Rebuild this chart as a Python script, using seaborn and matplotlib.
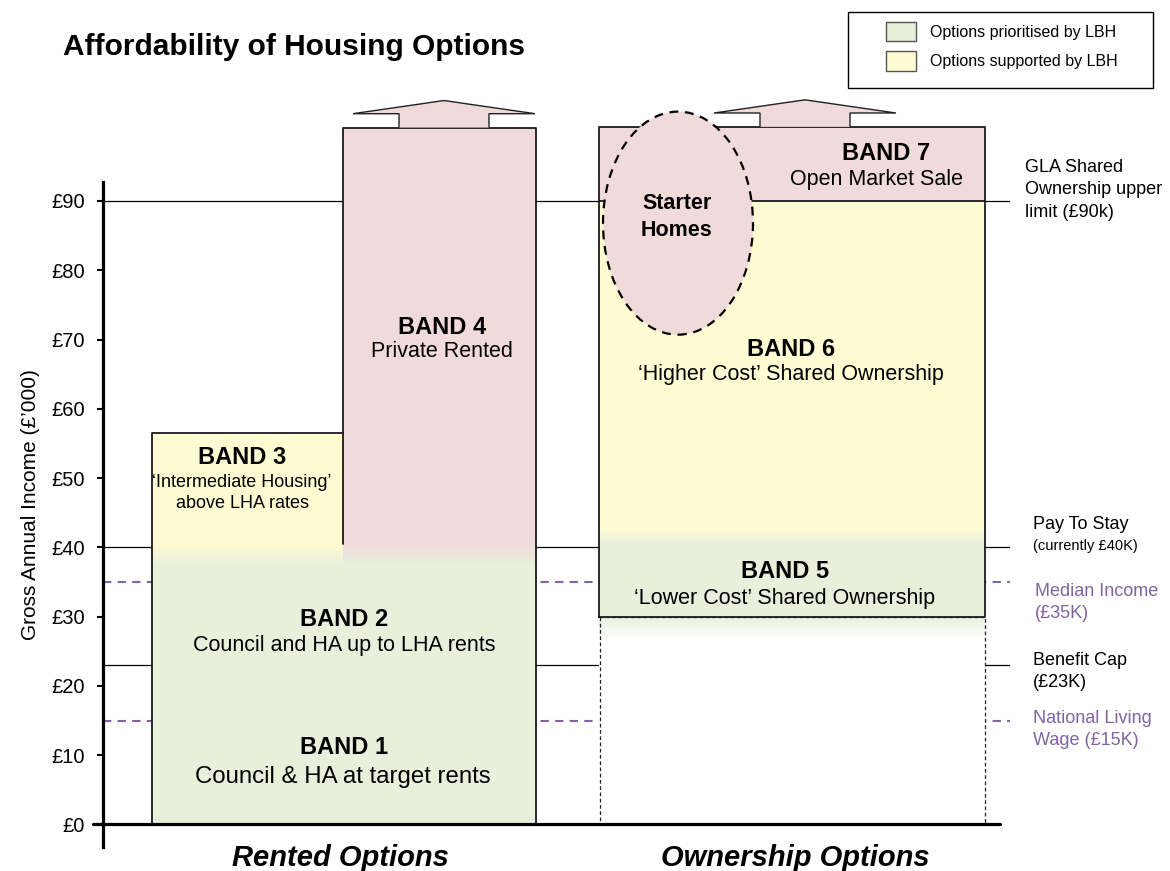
import numpy as np
import matplotlib
matplotlib.use('Agg')
import matplotlib.pyplot as plt
from matplotlib.patches import Ellipse, Polygon, Patch, Rectangle
import seaborn as sns

sns.set_theme(style='white')
plt.rcParams['font.family'] = ['Liberation Sans', 'DejaVu Sans']
plt.rcParams['text.color'] = 'black'
plt.rcParams['axes.labelcolor'] = 'black'

# ---- data: income bands in £'000 ----
band_names = ['BAND 1', 'BAND 2', 'BAND 3', 'BAND 4', 'BAND 5', 'BAND 6', 'BAND 7']
band_desc = ['Council & HA at target rents',
             'Council and HA up to LHA rents',
             '‘Intermediate Housing’\nabove LHA rates',
             'Private Rented',
             '‘Lower Cost’ Shared Ownership',
             '‘Higher Cost’ Shared Ownership',
             'Open Market Sale']
band_low = [0, 17, 40, 40, 30, 41.5, 90]
band_high = [17, 40, 56.5, 100.6, 41.5, 90, 100.7]
band_group = ['prioritised', 'prioritised', 'supported', 'market',
              'prioritised', 'supported', 'market']

ref_values = [90, 40, 35, 23, 15]
ref_labels = ['GLA Shared\nOwnership upper\nlimit (£90k)', 'Pay To Stay',
              'Median Income\n(£35K)', 'Benefit Cap\n(£23K)',
              'National Living\nWage (£15K)']
ref_notes = ['', '(currently £40K)', '', '', '']
ref_kind = ['limit', 'limit', 'average', 'limit', 'average']

starter_label = 'Starter\nHomes'
starter_low, starter_high = 70.7, 102.9

y_ticks = [0, 10, 20, 30, 40, 50, 60, 70, 80, 90]
option_labels = ['Rented Options', 'Ownership Options']
legend_labels = ['Options prioritised by LBH', 'Options supported by LBH']

# ---- styling / layout (x measured in figure pixels) ----
colors = {'prioritised': '#E8F0DC', 'supported': '#FFFBD2', 'market': '#F0DADA'}
purple = '#8064A2'
rent_x = (152, 536)
own_x = (599, 985)
split_x = 343
band_x = [rent_x, rent_x, (152, split_x), (split_x, 536), own_x, own_x, own_x]
# text baselines (last line for multi-line text)
head_pos = [(344, 10.2), (344, 28.65), (242, 52.0), (442, 70.8),
            (785, 35.6), (791, 67.6), (886, 95.9)]
desc_pos = [(343, 6.0), (344, 25.0), (242, 45.7), (442, 67.5),
            (785, 31.8), (791, 64.2), (877, 92.3)]
desc_size = [17.3, 15.5, 13, 15.5, 15.5, 15.5, 15.5]
ref_text_x = [1025, 1033, 1035, 1033, 1033]
ref_text_y = [91.6, 43.3, 32.0, 22.1, 13.7]

fig = plt.figure(figsize=(11.7, 8.71), dpi=100)
W, H = 1170, 871
ax = fig.add_axes([103 / W, (H - 847) / H, (1010 - 103) / W, (847 - 182) / H])
ax.set_facecolor('none')

# reference lines sit behind the bands
for val, kind in zip(ref_values, ref_kind):
    if kind == 'average':
        ax.axhline(val, color=purple, lw=1.5, ls=(0, (4, 3)), zorder=1)
    else:
        ax.axhline(val, color='black', lw=0.9, zorder=1)

# band fills
for (x0, x1), lo, hi, grp in zip(band_x, band_low, band_high, band_group):
    ax.bar(x0, hi - lo, width=x1 - x0, bottom=lo, align='edge',
           color=colors[grp], edgecolor='none', zorder=2, clip_on=False)

# empty dashed box below band 5
ax.bar(own_x[0], band_low[4], width=own_x[1] - own_x[0], bottom=0, align='edge',
       color='white', edgecolor='none', zorder=2)


def fade(x0, x1, y0, y1, c0, c1):
    a = np.array(matplotlib.colors.to_rgb(c0))
    b = np.array(matplotlib.colors.to_rgb(c1))
    t = np.linspace(0, 1, 64)[:, None]
    grad = (a + (b - a) * t)[:, None, :]
    ax.imshow(grad, extent=(x0, x1, y0, y1), origin='lower', aspect='auto',
              interpolation='bilinear', zorder=2.5)


g, yl, pk = colors['prioritised'], colors['supported'], colors['market']
fade(152, split_x, 37.5, 40.5, g, yl)
fade(split_x, 536, 37.5, 40.8, g, pk)
fade(own_x[0], own_x[1], 40.6, 42.6, g, yl)
fade(own_x[0], own_x[1], 26.6, 30, 'white', g)

# outlines
line_kw = dict(color='#1a1a1a', lw=1.3, zorder=3, clip_on=False)
ax.plot([152, 152, split_x, split_x, 536, 536],
        [0, band_high[2], band_high[2], band_high[3], band_high[3], 0], **line_kw)
ax.plot([split_x, split_x], [40.5, band_high[2]], **line_kw)
ax.plot([own_x[0], own_x[0], own_x[1], own_x[1], own_x[0]],
        [band_low[4], band_high[6], band_high[6], band_low[4], band_low[4]], **line_kw)
ax.plot(own_x, [band_low[6]] * 2, **line_kw)
ax.plot([own_x[0] + 1, own_x[0] + 1, own_x[1], own_x[1], own_x[0] + 1],
        [band_low[4], 0, 0, band_low[4], band_low[4]],
        color='#222', lw=0.9, ls=(0, (3, 2)), zorder=3)

# upward arrows above the open-ended bands
for cx, top in [(444, band_high[3]), (805, band_high[6])]:
    pts = [(cx - 45, top), (cx - 45, top + 2.0), (cx - 91, top + 2.0),
           (cx, top + 3.9), (cx + 91, top + 2.0), (cx + 45, top + 2.0),
           (cx + 45, top)]
    ax.add_patch(Polygon(pts, closed=False, fc=pk, ec='#222', lw=1.0,
                         zorder=3, clip_on=False))

# starter homes ellipse
ax.add_patch(Ellipse((678, (starter_low + starter_high) / 2), 150,
                     starter_high - starter_low, fc=pk, ec='black', lw=1.6,
                     ls=(0, (4, 3)), zorder=4, clip_on=False))
ax.text(677, 84.95, starter_label, ha='center', va='baseline', fontsize=15.5,
        fontweight='bold', linespacing=1.4, zorder=5)

# band labels
for name, desc, hp, dp, ds in zip(band_names, band_desc, head_pos, desc_pos, desc_size):
    ax.text(hp[0], hp[1], name, ha='center', va='baseline', fontsize=17,
            fontweight='bold', zorder=5)
    ax.text(dp[0], dp[1], desc, ha='center', va='baseline', fontsize=ds,
            linespacing=1.3, zorder=5)

# reference labels on the right
for lab, note, kind, tx, ty in zip(ref_labels, ref_notes, ref_kind, ref_text_x, ref_text_y):
    ax.text(tx, ty, lab, ha='left', va='center', fontsize=13, linespacing=1.4,
            color=purple if kind == 'average' else 'black')
    if note:
        ax.text(tx, ty - 3.1, note, ha='left', va='center', fontsize=10.5)

# x axis line at zero
ax.plot([93, 1000], [0, 0], color='black', lw=2.3, zorder=6, clip_on=False)

ax.text(340, -4.8, option_labels[0], ha='center', va='center', fontsize=21,
        fontweight='bold', fontstyle='italic')
ax.text(795, -4.8, option_labels[1], ha='center', va='center', fontsize=21,
        fontweight='bold', fontstyle='italic')

ax.set_xlim(103, 1010)
ax.set_ylim(-3.25, 92.74)
ax.set_xticks([])
ax.set_yticks(y_ticks)
ax.set_yticklabels([f'£{v}' for v in y_ticks])
ax.tick_params(axis='y', left=True, direction='out', length=4, width=1.5,
               pad=9, labelsize=14.5, colors='black')
sns.despine(ax=ax, top=True, right=True, bottom=True, left=False)
ax.spines['left'].set_linewidth(2.3)
ax.spines['left'].set_color('black')
ax.spines['left'].set_zorder(6)

ax.set_ylabel('Gross Annual Income (£’000)', fontsize=15, color='black')
ax.yaxis.set_label_coords((30 - 103) / 907, (847 - 505) / 665)
ax.yaxis.label.set_va('center')

fig.text(63 / W, 1 - 47 / H, 'Affordability of Housing Options', fontsize=21.5,
         fontweight='bold', va='center', ha='left')

# legend with a separate square frame
handles = [Patch(fc=colors['prioritised'], ec='#555', lw=1),
           Patch(fc=colors['supported'], ec='#555', lw=1)]
fig.legend(handles, legend_labels, loc='upper left',
           bbox_to_anchor=(886 / W, 1 - 22 / H), frameon=False, borderpad=0,
           borderaxespad=0, handlelength=1.88, handleheight=1.5,
           handletextpad=0.85, labelspacing=0.6, fontsize=11.5)
fig.add_artist(Rectangle((848 / W, 1 - 88 / H), 305 / W, 76 / H,
                         transform=fig.transFigure, fill=False, ec='black', lw=1))

fig.savefig('out.png', dpi=100, facecolor='white')
